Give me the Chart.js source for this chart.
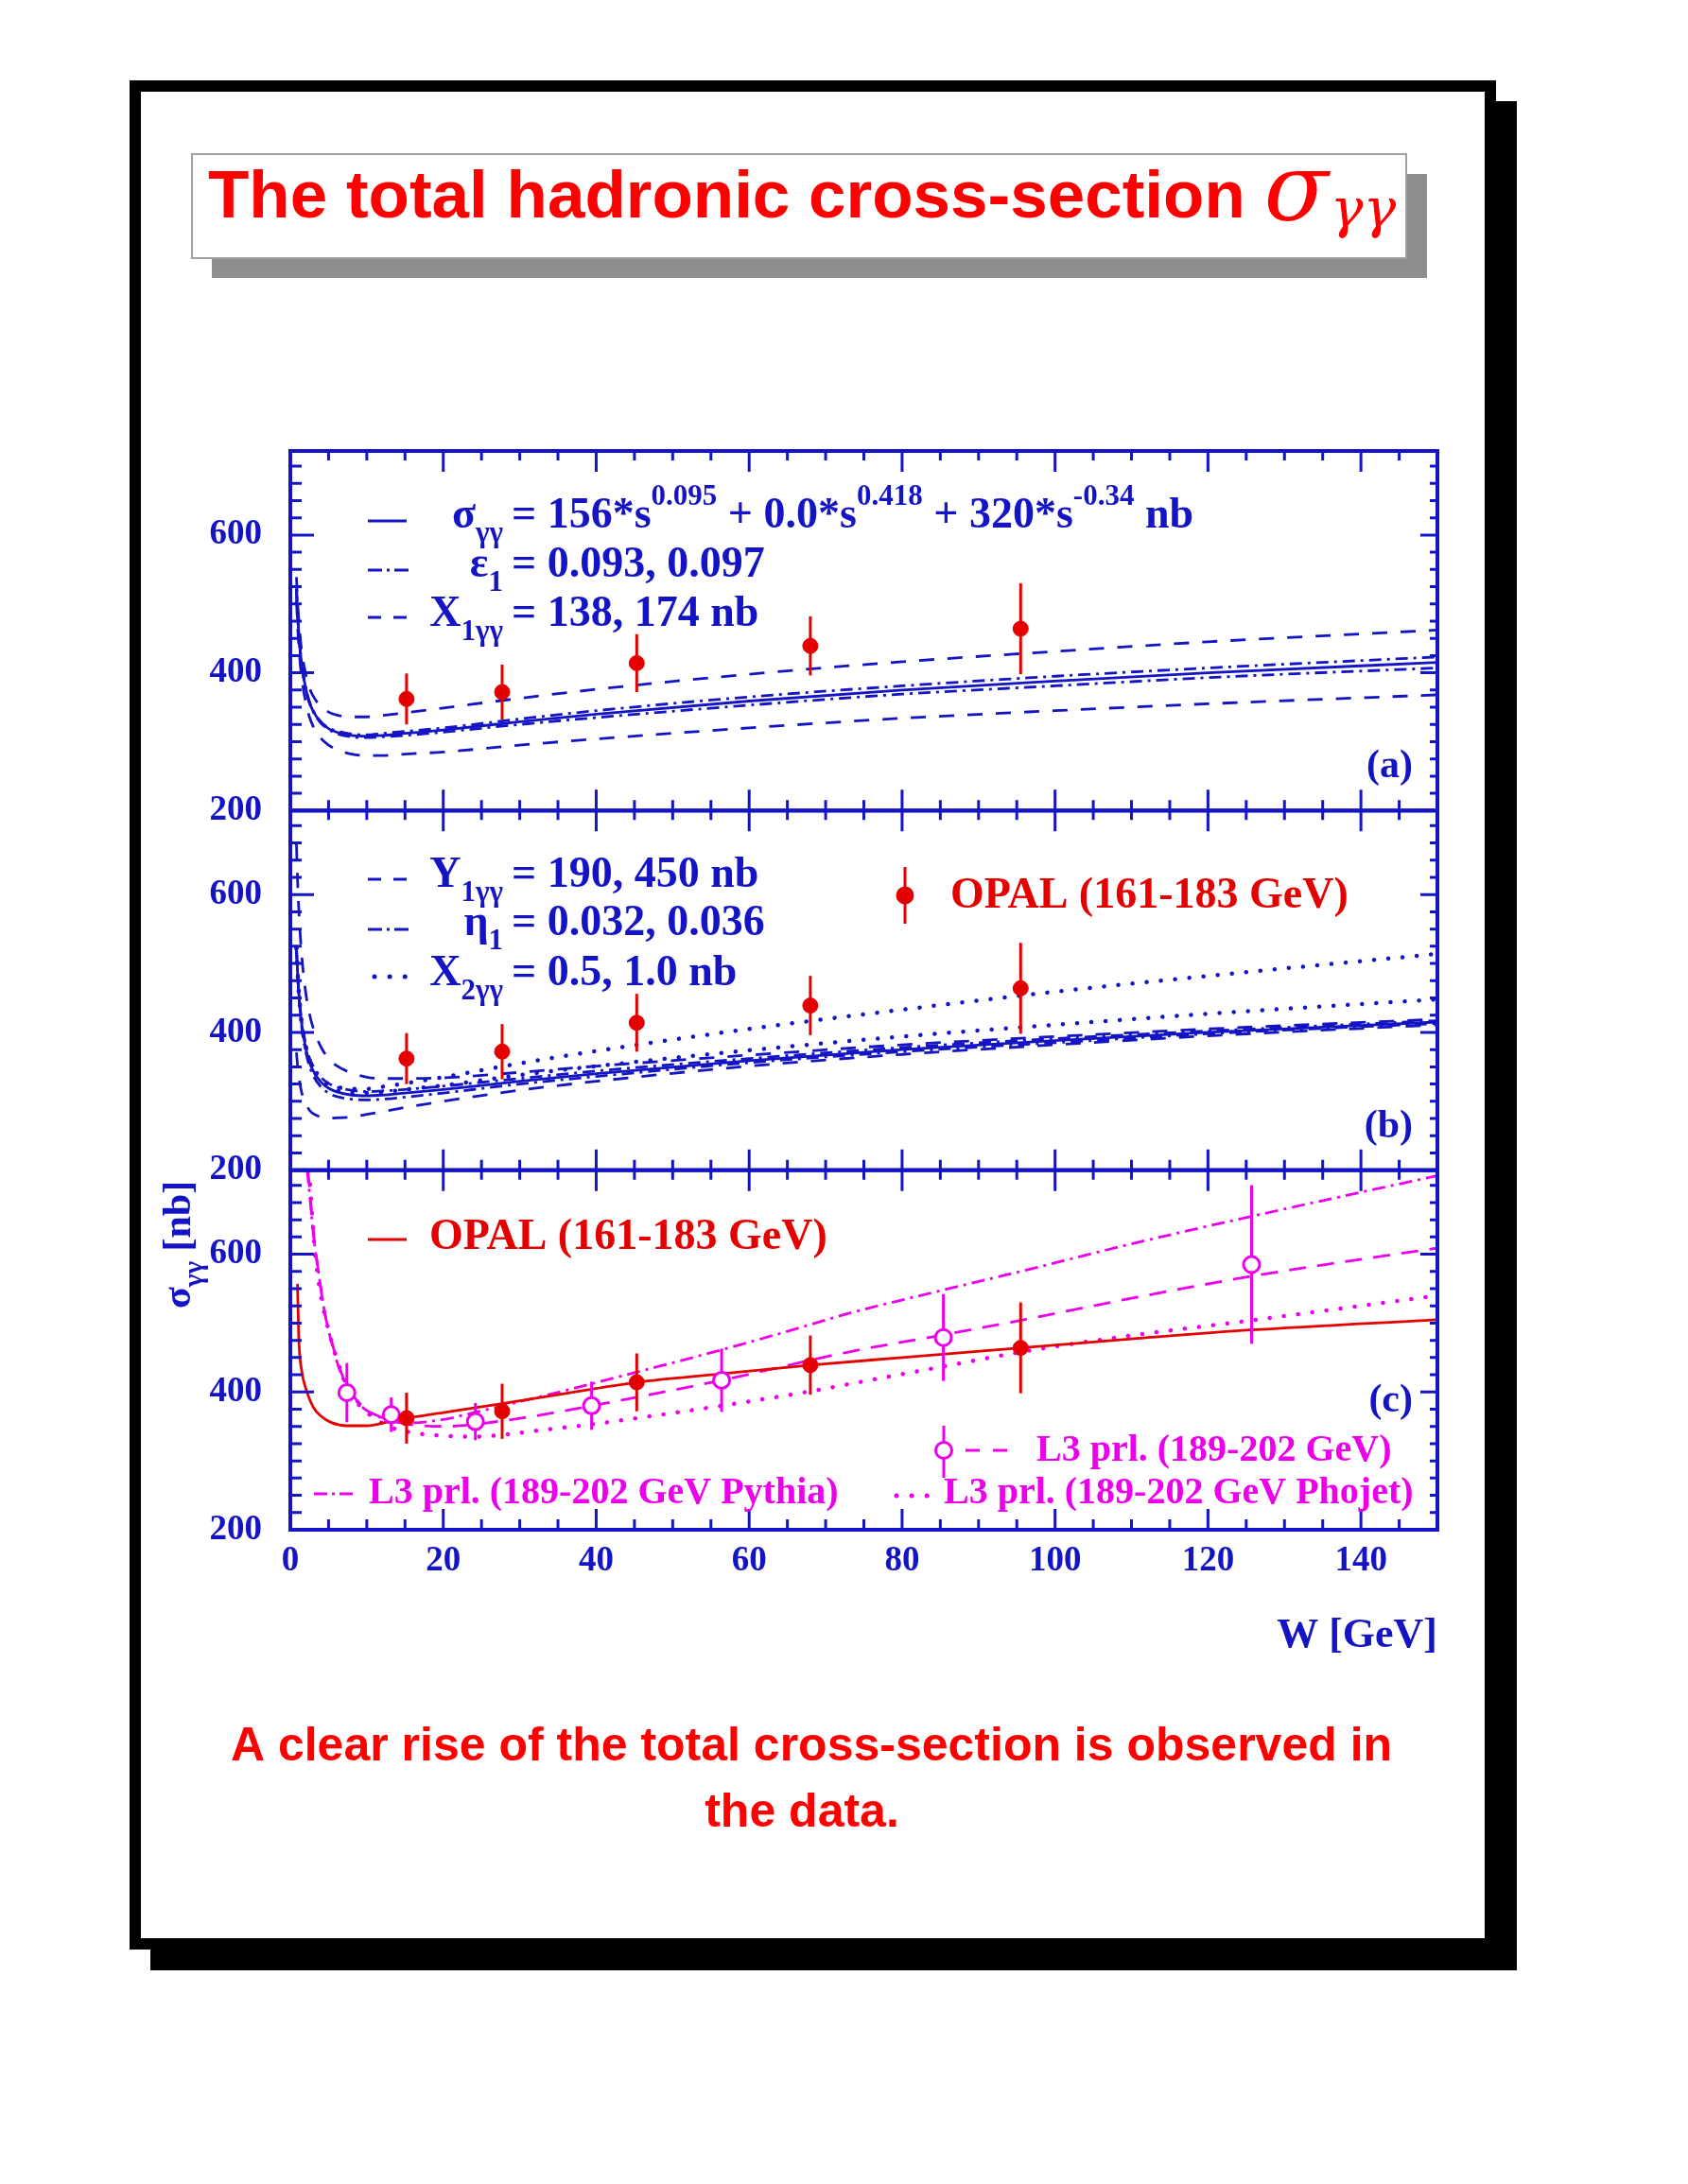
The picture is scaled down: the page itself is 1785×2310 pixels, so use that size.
<!DOCTYPE html>
<html>
<head>
<meta charset="utf-8">
<script src="https://cdn.jsdelivr.net/npm/chart.js@4.4.1/dist/chart.umd.min.js"></script>
<style>
  html, body { margin: 0; padding: 0; background: #fff; }
  #sigmaChart { display: block; }
</style>
</head>
<body>
<canvas id="sigmaChart" width="1785" height="2310"></canvas>
<script>
// ---- data ----
const xTickLabels = [0, 20, 40, 60, 80, 100, 120, 140];
const yTickLabels = [200, 400, 600];

// W grid of the blue model curves, panels (a) and (b)
const wModel     = [0.8, 1, 1.25, 1.5, 2, 2.5, 3, 4, 5, 6, 8, 10, 12, 15, 20, 30, 40, 60, 80, 100, 120, 150];
const sigCentral = [522, 476, 438, 411, 378, 357, 344, 328, 319, 314, 309, 308, 309, 312, 317, 329, 340, 359, 375, 388, 400, 415];
const sigEpsLo   = [522, 476, 438, 411, 377, 356, 343, 327, 318, 312, 307, 306, 307, 309, 314, 325, 335, 353, 369, 381, 393, 407];
const sigEpsHi   = [522, 476, 438, 411, 379, 358, 345, 329, 320, 316, 311, 310, 312, 315, 320, 333, 345, 365, 381, 395, 407, 423];
const sigX1Lo    = [505, 458, 419, 392, 358, 336, 322, 305, 295, 289, 282, 280, 280, 282, 285, 295, 304, 320, 334, 345, 355, 368];
const sigX1Hi    = [539, 494, 457, 430, 399, 378, 366, 351, 343, 339, 336, 336, 338, 342, 349, 363, 376, 398, 416, 431, 445, 462];
const sigY1Lo    = [371, 346, 326, 312, 297, 287, 282, 277, 275, 276, 277, 281, 285, 291, 300, 316, 329, 351, 368, 382, 395, 411];
const sigY1Hi    = [673, 606, 550, 510, 459, 427, 406, 379, 362, 352, 341, 335, 333, 333, 334, 342, 351, 367, 382, 394, 405, 419];
const sigEtaLo   = [525, 476, 436, 407, 373, 351, 337, 321, 312, 307, 303, 302, 303, 306, 312, 325, 336, 356, 372, 385, 398, 413];
const sigEtaHi   = [519, 476, 440, 415, 384, 363, 351, 335, 326, 321, 316, 314, 315, 317, 322, 333, 344, 362, 378, 391, 402, 417];
const sigX2Lo    = [522, 477, 439, 412, 379, 358, 345, 330, 321, 316, 312, 312, 313, 317, 323, 338, 351, 374, 394, 411, 427, 448];
const sigX2Hi    = [523, 478, 440, 413, 381, 361, 348, 333, 325, 321, 318, 318, 321, 326, 335, 355, 373, 405, 433, 459, 482, 514];

// OPAL data points
const opalW   = [15.2, 27.7, 45.3, 68, 95.5];
const opalSig = [362, 372, 414, 439, 464];
const opalErr = [37, 40, 42, 43, 66];

// L3 preliminary data points
const l3W   = [7.4, 13.2, 24.2, 39.4, 56.4, 85.4, 125.7];
const l3Sig = [399, 367, 357, 380, 417, 479, 585];
const l3Err = [43, 25, 27, 35, 46, 63, 115];

// panel (c) curves
const opalFitW = [0.94, 1.1, 1.5, 2, 3, 4, 5.3, 7.4, 10, 12.9, 15.2, 20, 27.7, 35, 45.3, 56, 68, 80, 95.5, 110, 125.6, 150];
const opalFit  = [557, 480, 430, 406, 378, 365, 356, 351, 351, 357, 362, 370, 383, 396, 414, 426, 439, 450, 464, 477, 490, 505];
const l3FitW   = [2.3, 2.6, 3.1, 3.8, 4.5, 5.3, 6.3, 7.4, 8.7, 10, 12, 15, 20, 27.7, 39.4, 56.4, 73, 85.4, 95.5, 110, 125.7, 150];
const l3Fit    = [722, 685, 625, 565, 515, 478, 440, 408, 388, 374, 363, 354, 350, 358, 380, 417, 458, 483, 504, 536, 568, 609];
const pythiaW  = [2.2, 2.5, 3.0, 3.8, 4.5, 5.3, 6.3, 7.4, 8.7, 10, 12, 15, 20, 24, 30, 37, 45, 56, 65, 73, 85, 95.5, 110, 125.7, 150];
const pythia   = [722, 690, 630, 565, 515, 476, 437, 406, 386, 373, 362, 355, 360, 370, 386, 405, 428, 460, 488, 514, 547, 575, 615, 655, 714];
const phojetW  = [2.5, 2.8, 3.2, 3.7, 4.3, 5.0, 5.8, 7.0, 8.5, 10.5, 13.3, 16, 19.2, 24.2, 28, 32.3, 39.4, 45.3, 56.4, 68, 73.3, 85.4, 95.5, 110, 125.7, 150];
const phojet   = [722, 665, 605, 560, 522, 490, 458, 420, 388, 366, 348, 341, 337, 335, 338, 344, 353, 362, 380, 401, 412, 437, 458, 482, 504, 540];

// ---- styles ----
const BLUE = '#1414c4';
const RED = '#e40000';
const MAG = '#ec00ec';
const SERIF = '"Liberation Serif", "Times New Roman", serif';
const SANS = '"Liberation Sans", Arial, sans-serif';
const DASH = [16, 14];
const DASHDOT = [13, 6, 3, 6];
const DOT = [0.1, 15];
const yMin = 200, yMax = 722;

function pts(xs, ys) {
    return xs.map((x, i) => ({ x: x, y: ys[i] }));
}

function curve(label, xs, ys, axis, color, dash) {
    const dotted = dash === DOT;
    return {
        label: label,
        data: pts(xs, ys),
        yAxisID: axis,
        borderColor: color,
        borderWidth: dotted ? 4.5 : 2.8,
        borderDash: dash || [],
        borderCapStyle: dotted ? 'round' : 'butt',
        pointRadius: 0,
        fill: false,
        cubicInterpolationMode: 'monotone'
    };
}

function markers(label, xs, ys, errs, axis, color, open) {
    return {
        label: label,
        data: pts(xs, ys),
        errors: errs,
        yAxisID: axis,
        showLine: false,
        pointStyle: 'circle',
        pointRadius: open ? 8.5 : 8,
        pointBorderWidth: open ? 3 : 1,
        pointBorderColor: color,
        pointBackgroundColor: open ? '#ffffff' : color
    };
}

// markers first so they end up on top
const datasets = [
    markers('OPAL a', opalW, opalSig, opalErr, 'yA', RED, false),
    markers('OPAL b', opalW, opalSig, opalErr, 'yB', RED, false),
    markers('OPAL c', opalW, opalSig, opalErr, 'yC', RED, false),
    markers('L3 c', l3W, l3Sig, l3Err, 'yC', MAG, true),

    curve('central a', wModel, sigCentral, 'yA', BLUE),
    curve('eps lo', wModel, sigEpsLo, 'yA', BLUE, DASHDOT),
    curve('eps hi', wModel, sigEpsHi, 'yA', BLUE, DASHDOT),
    curve('X1 lo', wModel, sigX1Lo, 'yA', BLUE, DASH),
    curve('X1 hi', wModel, sigX1Hi, 'yA', BLUE, DASH),

    curve('central b', wModel, sigCentral, 'yB', BLUE),
    curve('Y1 lo', wModel, sigY1Lo, 'yB', BLUE, DASH),
    curve('Y1 hi', wModel, sigY1Hi, 'yB', BLUE, DASH),
    curve('eta lo', wModel, sigEtaLo, 'yB', BLUE, DASHDOT),
    curve('eta hi', wModel, sigEtaHi, 'yB', BLUE, DASHDOT),
    curve('X2 lo', wModel, sigX2Lo, 'yB', BLUE, DOT),
    curve('X2 hi', wModel, sigX2Hi, 'yB', BLUE, DOT),

    curve('OPAL fit', opalFitW, opalFit, 'yC', RED),
    curve('L3 fit', l3FitW, l3Fit, 'yC', MAG, [18, 12]),
    curve('Pythia', pythiaW, pythia, 'yC', MAG, [14, 6, 3, 6]),
    curve('Phojet', phojetW, phojet, 'yC', MAG, DOT)
];

// ---- helpers for drawing text with sub/superscripts ----
function rich(ctx, segs, x, y, size, color, align) {
    const fontOf = k => 'bold ' + (k === 'n' ? size : Math.round(size * 0.68)) + 'px ' + SERIF;
    let w = 0;
    segs.forEach(([t, k]) => { ctx.font = fontOf(k); w += ctx.measureText(t).width; });
    let cx = align === 'right' ? x - w : (align === 'center' ? x - w / 2 : x);
    ctx.fillStyle = color;
    ctx.textAlign = 'left';
    ctx.textBaseline = 'alphabetic';
    segs.forEach(([t, k]) => {
        ctx.font = fontOf(k);
        const dy = k === 'sub' ? size * 0.32 : (k === 'sup' ? -size * 0.52 : 0);
        ctx.fillText(t, cx, y + dy);
        cx += ctx.measureText(t).width;
    });
}

function sample(ctx, x0, x1, y, color, dash, width, cap) {
    ctx.save();
    ctx.strokeStyle = color;
    ctx.lineWidth = width;
    ctx.setLineDash(dash);
    ctx.lineCap = cap || 'butt';
    ctx.beginPath();
    ctx.moveTo(x0, y);
    ctx.lineTo(x1, y);
    ctx.stroke();
    ctx.restore();
}

function legendMarker(ctx, x, y, r, color, open, barTop, barBot) {
    ctx.save();
    ctx.strokeStyle = color;
    ctx.lineWidth = 3;
    ctx.beginPath();
    ctx.moveTo(x, barTop);
    ctx.lineTo(x, barBot);
    ctx.stroke();
    ctx.beginPath();
    ctx.arc(x, y, r, 0, Math.PI * 2);
    ctx.fillStyle = open ? '#fff' : color;
    ctx.fill();
    ctx.stroke();
    ctx.restore();
}

// ---- plugins ----
const pagePlugin = {
    id: 'page',
    beforeDraw(chart) {
        const ctx = chart.ctx;
        ctx.save();
        ctx.fillStyle = '#fff';
        ctx.fillRect(0, 0, chart.width, chart.height);

        // black frame with drop shadow
        ctx.fillStyle = '#000';
        ctx.fillRect(1582, 107, 22, 1977);
        ctx.fillRect(159, 2062, 1445, 22);
        ctx.strokeStyle = '#000';
        ctx.lineWidth = 12;
        ctx.strokeRect(143, 91, 1433, 1965);

        // title box
        ctx.fillStyle = '#8e8e8e';
        ctx.fillRect(224, 184, 1285, 110);
        ctx.fillStyle = '#fff';
        ctx.fillRect(203, 163, 1284, 110);
        ctx.strokeStyle = '#a0a0a0';
        ctx.lineWidth = 2;
        ctx.strokeRect(203, 163, 1284, 110);

        ctx.fillStyle = '#ff0000';
        ctx.textBaseline = 'alphabetic';
        ctx.textAlign = 'left';
        ctx.font = 'bold 71px ' + SANS;
        const head = 'The total hadronic cross-section ';
        ctx.fillText(head, 220, 230);
        let hx = 220 + ctx.measureText(head).width;
        ctx.font = 'italic 100px "DejaVu Serif", serif';
        ctx.fillText('σ', hx, 233);
        hx += ctx.measureText('σ').width + 2;
        ctx.font = 'italic 58px "DejaVu Serif", serif';
        ctx.fillText('γγ', hx, 240);

        // caption
        ctx.textAlign = 'center';
        ctx.font = 'bold 50px ' + SANS;
        ctx.fillText('A clear rise of the total cross-section is observed in', 858, 1862);
        ctx.fillText('the data.', 848, 1932);
        ctx.restore();
    }
};

const errorBarPlugin = {
    id: 'errorBars',
    beforeDatasetDraw(chart, args) {
        const ds = chart.data.datasets[args.index];
        if (!ds.errors) return;
        const ctx = chart.ctx;
        const xs = args.meta.xScale, ys = args.meta.yScale;
        ctx.save();
        ctx.strokeStyle = ds.pointBorderColor;
        ctx.lineWidth = 3;
        ds.data.forEach((p, i) => {
            const px = xs.getPixelForValue(p.x);
            ctx.beginPath();
            ctx.moveTo(px, ys.getPixelForValue(p.y - ds.errors[i]));
            ctx.lineTo(px, ys.getPixelForValue(p.y + ds.errors[i]));
            ctx.stroke();
        });
        ctx.restore();
    }
};

// inward ticks on all four sides of every panel, plus the panel frames
const frameTickPlugin = {
    id: 'frameTicks',
    afterDatasetsDraw(chart) {
        const ctx = chart.ctx;
        const xs = chart.scales.x;
        ctx.save();
        ctx.strokeStyle = BLUE;
        ['yA', 'yB', 'yC'].forEach(id => {
            const s = chart.scales[id];
            const top = s.top, bot = s.bottom, l = xs.left, r = xs.right;
            ctx.lineWidth = 3;
            ctx.beginPath();
            for (let v = yMin; v < yMax; v += 25) {
                const py = s.getPixelForValue(v);
                const major = yTickLabels.includes(v);
                ctx.moveTo(l, py); ctx.lineTo(l + (major ? 25 : 12), py);
                ctx.moveTo(r, py); ctx.lineTo(r - (major ? 18 : 8), py);
            }
            for (let v = 0; v <= 150; v += 5) {
                const px = xs.getPixelForValue(v);
                const major = v % 20 === 0;
                ctx.moveTo(px, top); ctx.lineTo(px, top + (major ? 22 : 10));
                ctx.moveTo(px, bot); ctx.lineTo(px, bot - (major ? 22 : 11));
            }
            ctx.stroke();
            ctx.lineWidth = 4;
            ctx.strokeRect(l, top, r - l, bot - top);
        });
        ctx.restore();
    }
};

const textPlugin = {
    id: 'panelText',
    afterDraw(chart) {
        const ctx = chart.ctx;
        const S = 46;
        const SM = 40;
        const xEq = 541, xLeft = 532;
        ctx.save();

        // panel (a)
        sample(ctx, 389, 430, 551, BLUE, [], 3);
        rich(ctx, [['σ', 'n'], ['γγ', 'sub']], xLeft, 558, S, BLUE, 'right');
        rich(ctx, [['= 156*s', 'n'], ['0.095', 'sup'], [' + 0.0*s', 'n'], ['0.418', 'sup'],
                   [' + 320*s', 'n'], ['-0.34', 'sup'], [' nb', 'n']], xEq, 558, S, BLUE);
        sample(ctx, 389, 432, 603, BLUE, [15, 5, 3, 5], 3);
        rich(ctx, [['ε', 'n'], ['1', 'sub']], xLeft, 610, S, BLUE, 'right');
        rich(ctx, [['= 0.093, 0.097', 'n']], xEq, 610, S, BLUE);
        sample(ctx, 389, 431, 653, BLUE, [14, 13], 3);
        rich(ctx, [['X', 'n'], ['1γγ', 'sub']], xLeft, 662, S, BLUE, 'right');
        rich(ctx, [['= 138, 174 nb', 'n']], xEq, 662, S, BLUE);

        // panel (b)
        sample(ctx, 389, 431, 930, BLUE, [14, 13], 3);
        rich(ctx, [['Y', 'n'], ['1γγ', 'sub']], xLeft, 938, S, BLUE, 'right');
        rich(ctx, [['= 190, 450 nb', 'n']], xEq, 938, S, BLUE);
        sample(ctx, 389, 432, 983, BLUE, [15, 5, 3, 5], 3);
        rich(ctx, [['η', 'n'], ['1', 'sub']], xLeft, 989, S, BLUE, 'right');
        rich(ctx, [['= 0.032, 0.036', 'n']], xEq, 989, S, BLUE);
        sample(ctx, 396, 430, 1033, BLUE, [0.1, 16], 5, 'round');
        rich(ctx, [['X', 'n'], ['2γγ', 'sub']], xLeft, 1042, S, BLUE, 'right');
        rich(ctx, [['= 0.5, 1.0 nb', 'n']], xEq, 1042, S, BLUE);
        legendMarker(ctx, 957, 947, 8, RED, false, 917, 977);
        rich(ctx, [['OPAL (161-183 GeV)', 'n']], 1005, 960, S, RED);

        // panel (c)
        sample(ctx, 389, 430, 1311, RED, [], 3);
        rich(ctx, [['OPAL (161-183 GeV)', 'n']], 454, 1321, S, RED);
        sample(ctx, 332, 378, 1580, MAG, [14, 5, 3, 5], 3);
        rich(ctx, [['L3 prl. (189-202 GeV Pythia)', 'n']], 390, 1590, SM, MAG);
        legendMarker(ctx, 998, 1534, 8.5, MAG, true, 1508, 1563);
        sample(ctx, 1021, 1066, 1534, MAG, [15, 14], 3);
        rich(ctx, [['L3 prl. (189-202 GeV)', 'n']], 1096, 1545, SM, MAG);
        sample(ctx, 948, 983, 1582, MAG, [0.1, 16], 5, 'round');
        rich(ctx, [['L3 prl. (189-202 GeV Phojet)', 'n']], 998, 1590, SM, MAG);

        // panel tags
        rich(ctx, [['(a)', 'n']], 1494, 822, 42, BLUE, 'right');
        rich(ctx, [['(b)', 'n']], 1494, 1203, 42, BLUE, 'right');
        rich(ctx, [['(c)', 'n']], 1494, 1493, 42, BLUE, 'right');

        // axis titles
        rich(ctx, [['W [GeV]', 'n']], 1520, 1742, 44, BLUE, 'right');
        ctx.save();
        ctx.translate(201, 1384);
        ctx.rotate(-Math.PI / 2);
        rich(ctx, [['σ', 'n'], ['γγ', 'sub'], [' [nb]', 'n']], 0, 0, 42, BLUE);
        ctx.restore();

        ctx.restore();
    }
};

function panelAxis(weight) {
    return {
        type: 'linear',
        position: 'left',
        stack: 'sigma',
        stackWeight: 1,
        weight: weight,
        min: yMin,
        max: yMax,
        grid: { display: false, drawTicks: false },
        border: { display: false },
        ticks: {
            color: BLUE,
            font: { family: 'Liberation Serif', size: 37, weight: 'bold' },
            padding: 30
        },
        afterBuildTicks: s => { s.ticks = yTickLabels.map(v => ({ value: v })); },
        afterFit: s => { s.width = 120; }
    };
}

new Chart(document.getElementById('sigmaChart'), {
    type: 'line',
    data: { datasets: datasets },
    options: {
        responsive: false,
        devicePixelRatio: 1,
        animation: false,
        events: [],
        layout: {
            autoPadding: false,
            padding: { left: 187, right: 265, top: 477, bottom: 632 }
        },
        plugins: {
            legend: { display: false },
            tooltip: { enabled: false },
            title: { display: false }
        },
        scales: {
            x: {
                type: 'linear',
                position: 'bottom',
                min: 0,
                max: 150,
                grid: { display: false, drawTicks: false },
                border: { display: false },
                ticks: {
                    color: BLUE,
                    font: { family: 'Liberation Serif', size: 37, weight: 'bold' },
                    padding: 11,
                    autoSkip: false,
                    maxRotation: 0,
                    minRotation: 0
                },
                afterBuildTicks: s => { s.ticks = xTickLabels.map(v => ({ value: v })); },
                afterFit: s => { s.height = 60; }
            },
            yC: panelAxis(1),
            yB: panelAxis(2),
            yA: panelAxis(3)
        }
    },
    plugins: [pagePlugin, errorBarPlugin, frameTickPlugin, textPlugin]
});
</script>
</body>
</html>
